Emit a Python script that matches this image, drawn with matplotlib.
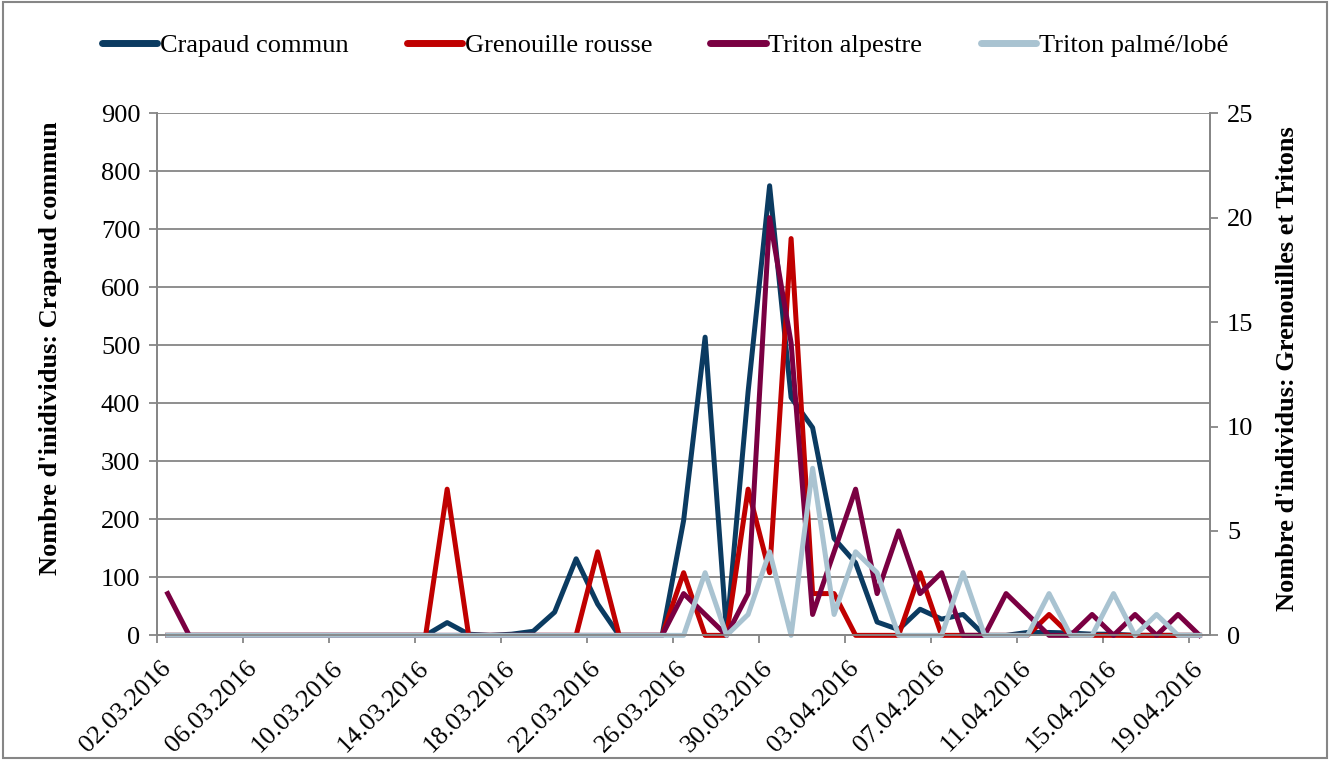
import matplotlib
matplotlib.use("Agg")
import matplotlib.pyplot as plt
import pandas as pd
from matplotlib.patches import Rectangle
from matplotlib.transforms import ScaledTranslation

plt.rcParams["font.family"] = ["Liberation Serif", "DejaVu Serif"]

# daily counts, 02.03.2016 -> 19.04.2016
dates = pd.date_range("2016-03-02", "2016-04-19", freq="D").strftime("%d.%m.%Y").tolist()

crapaud_commun = [0, 0, 0, 0, 0, 0, 0, 0, 0, 0, 0, 0, 0,
                  22, 2, 0, 2, 7, 40, 132, 54, 0, 0, 0, 198, 514,
                  4, 420, 775, 410, 358, 167, 125, 23, 10, 45, 28, 36,
                  0, 0, 5, 5, 4, 2, 2, 0, 0, 0, 0]
grenouille_rousse = [0, 0, 0, 0, 0, 0, 0, 0, 0, 0, 0, 0, 0,
                     7, 0, 0, 0, 0, 0, 0, 4, 0, 0, 0, 3, 0,
                     0, 7, 3, 19, 2, 2, 0, 0, 0, 3, 0, 0,
                     0, 0, 0, 1, 0, 0, 0, 0, 0, 0, 0]
triton_alpestre = [2, 0, 0, 0, 0, 0, 0, 0, 0, 0, 0, 0, 0,
                   0, 0, 0, 0, 0, 0, 0, 0, 0, 0, 0, 2, 1,
                   0, 2, 20, 14, 1, 4, 7, 2, 5, 2, 3, 0,
                   0, 2, 1, 0, 0, 1, 0, 1, 0, 1, 0]
triton_palme = [0, 0, 0, 0, 0, 0, 0, 0, 0, 0, 0, 0, 0,
                0, 0, 0, 0, 0, 0, 0, 0, 0, 0, 0, 0, 3,
                0, 1, 4, 0, 8, 1, 4, 3, 0, 0, 0, 3,
                0, 0, 0, 2, 0, 0, 2, 0, 1, 0, 0]

colors = {
    "Crapaud commun": "#0b3b61",
    "Grenouille rousse": "#c00000",
    "Triton alpestre": "#7a0042",
    "Triton palmé/lobé": "#a9c3d1",
}
grey = "#868686"
fs = 19

x = list(range(len(dates)))

fig = plt.figure(figsize=(13.3, 7.6), dpi=100)
fig.subplots_adjust(left=0.118, right=0.91, top=0.851, bottom=0.164)
ax = fig.add_subplot(111)
ax2 = ax.twinx()

lw = 3.6
l1, = ax.plot(x, crapaud_commun, color=colors["Crapaud commun"], lw=lw,
              label="Crapaud commun", clip_on=False)
l2, = ax2.plot(x, grenouille_rousse, color=colors["Grenouille rousse"], lw=lw,
               label="Grenouille rousse", clip_on=False)
l3, = ax2.plot(x, triton_alpestre, color=colors["Triton alpestre"], lw=lw,
               label="Triton alpestre", clip_on=False)
l4, = ax2.plot(x, triton_palme, color=colors["Triton palmé/lobé"], lw=lw,
               label="Triton palmé/lobé", clip_on=False)

ax.set_xlim(-0.5, len(dates) - 0.5)
ax.set_ylim(0, 900)
ax2.set_ylim(0, 25)
ax.set_yticks(range(0, 901, 100))
ax2.set_yticks(range(0, 26, 5))
ax.grid(axis="y", color=grey, lw=1.3)
ax.set_axisbelow(True)

# category labels every 4 days, tick marks between categories
ax.set_xticks(x[::4])
ax.set_xticklabels(dates[::4], rotation=45, ha="right", va="center",
                   rotation_mode="anchor", fontsize=fs)
shift = ScaledTranslation(5 / 72, 0, fig.dpi_scale_trans)
for lbl in ax.get_xticklabels():
    lbl.set_transform(lbl.get_transform() + shift)
ax.set_xticks([i - 0.5 for i in x[::4]], minor=True)
ax.tick_params(axis="x", which="major", length=0, pad=21)
ax.tick_params(axis="x", which="minor", length=6, color=grey, width=1.3)
ax.tick_params(axis="y", labelsize=fs, length=6, color=grey, width=1.3, pad=6)
ax2.tick_params(axis="y", labelsize=fs, length=6, color=grey, width=1.3, pad=6)

for a in (ax, ax2):
    a.spines["top"].set_visible(False)
    for s in ("left", "right", "bottom"):
        a.spines[s].set_color(grey)
        a.spines[s].set_linewidth(1.3)

ax.set_ylabel("Nombre d'inidividus: Crapaud commun", fontsize=fs, fontweight="bold")
ax2.set_ylabel("Nombre d'individus: Grenouilles et Tritons", fontsize=fs, fontweight="bold")
ax.yaxis.set_label_coords(-0.09, 0.55)
ax2.yaxis.set_label_coords(1.062, 0.51)

leg = fig.legend(handles=[l1, l2, l3, l4], loc="center", bbox_to_anchor=(0.5, 0.94),
                 ncol=4, frameon=False, fontsize=fs, handlelength=2.1,
                 handletextpad=0.1, columnspacing=2.2)
for h in leg.get_lines():
    h.set_linewidth(5)
    h.set_solid_capstyle("round")

fig.patches.append(Rectangle((0.002, 0.002), 0.996, 0.996, transform=fig.transFigure,
                             fill=False, edgecolor=grey, lw=1.5))

fig.savefig("out.png", dpi=100)
